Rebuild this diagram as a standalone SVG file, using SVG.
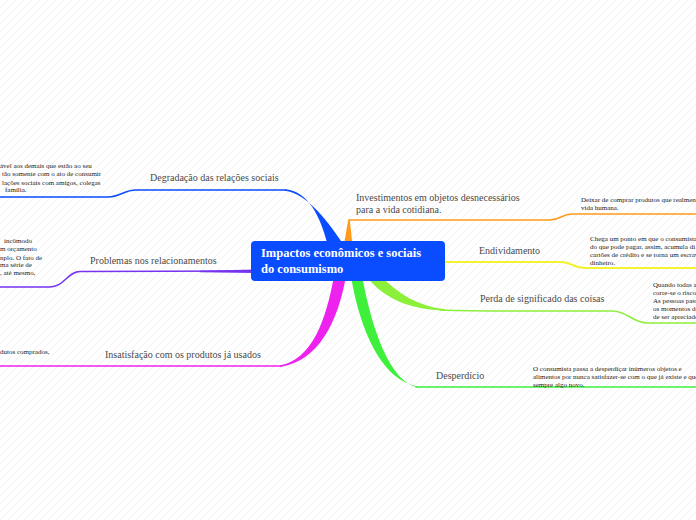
<svg xmlns="http://www.w3.org/2000/svg" width="696" height="520" viewBox="0 0 696 520">
<defs>
<pattern id="hatch" patternUnits="userSpaceOnUse" width="8" height="8">
<path d="M-1,9 L9,-1 M-1,1 L1,-1 M7,9 L9,7" stroke="#efefef" stroke-width="0.8" fill="none"/>
</pattern>
<style>
.main{font-family:"Liberation Serif","Times New Roman",serif;font-weight:bold;font-size:12.5px;fill:#ffffff}
.lbl{font-family:"Liberation Serif","Times New Roman",serif;font-size:10px;fill:#4a4a4a}
.note{font-family:"Liberation Serif","Times New Roman",serif;font-size:7px;fill:#222222}
.ln{fill:none;stroke-width:1.5;stroke-linecap:round;stroke-linejoin:round}
</style>
</defs>
<rect x="0" y="0" width="696" height="520" fill="#ffffff"/>
<rect x="0" y="0" width="696" height="520" fill="url(#hatch)"/>

<g id="connectors">
  <!-- Degradação (blue) -->
  <path d="M334,281 C327,222 310,191 285,189.3 L285,190.7 C306,193 328,220 347,250 Z" fill="#0a4cff"/>
  <path class="ln" d="M0,197 L108,197 C120,197 124,190 136,190 L286,190" stroke="#0a4cff"/>
  <!-- Investimentos (orange) -->
  <path d="M343,250 L348.2,220 L349.8,220 L353,250 Z" fill="#ff9a1a"/>
  <path class="ln" d="M349,220 L550,220 C560,220 562,214 572,214 L696,214" stroke="#ff9a1a"/>
  <!-- Endividamento (yellow) -->
  <path class="ln" d="M440,262 L561,262 C571,262 574,268 585,268 L696,268" stroke="#f2f22e" style="stroke-width:2"/>
  <!-- Perda de significado (light green) -->
  <path d="M366,276 C385,300 410,309 445,310.7 L445,309.3 C418,306 398,294 381,276 Z" fill="#8cf03a"/>
  <path class="ln" d="M440,310 C470,311 490,311 520,311 L612,311 C628,311 632,323 648,323 L696,323" stroke="#8cf03a"/>
  <!-- Desperdício (green) -->
  <path d="M351,276 C358,320 378,380 418,386.4 L418,387.6 C390,382 372,330 362,276 Z" fill="#3ef03a"/>
  <path class="ln" d="M416,387 L696,387" stroke="#3ef03a"/>
  <!-- Insatisfação (magenta) -->
  <path d="M334,276 C326,320 312,360 280,365.3 L280,366.7 C318,362 338,322 346,276 Z" fill="#ee22ee"/>
  <path class="ln" d="M0,366 L282,366" stroke="#ee22ee"/>
  <!-- Problemas (purple) -->
  <path d="M255,269.5 L200,270.8 L200,272.2 L255,273 Z" fill="#7733ee"/>
  <path class="ln" d="M252,271 L80,271.5 C68,271.5 64,287 50,287 L0,287" stroke="#7733ee"/>
</g>

<g id="node-center">
  <rect x="251" y="241" width="194" height="40" rx="4" ry="4" fill="#0a4cff"/>
  <text class="main" x="261" y="257">Impactos econômicos e sociais</text>
  <text class="main" x="261" y="272.5">do consumismo</text>
</g>

<g id="node-degradacao">
  <text class="lbl" x="150" y="181">Degradação das relações sociais</text>
</g>
<g id="note-degradacao">
  <text class="note" x="0" y="168">ável aos demais que estão ao seu</text>
  <text class="note" x="2" y="176">tão somente com o ato de consumir</text>
  <text class="note" x="2" y="184.5">lações sociais com amigos, colegas</text>
  <text class="note" x="5" y="192">família.</text>
</g>

<g id="node-problemas">
  <text class="lbl" x="90" y="263.5">Problemas nos relacionamentos</text>
</g>
<g id="note-problemas">
  <text class="note" x="4" y="243">incômodo</text>
  <text class="note" x="0" y="251">m orçamento</text>
  <text class="note" x="0" y="259.5">nplo. O fato de</text>
  <text class="note" x="0" y="267">ma série de</text>
  <text class="note" x="0" y="275">, até mesmo,</text>
</g>

<g id="node-insatisfacao">
  <text class="lbl" x="105" y="358">Insatisfação com os produtos já usados</text>
</g>
<g id="note-insatisfacao">
  <text class="note" x="0" y="354">dutos comprados,</text>
</g>

<g id="node-investimentos">
  <text class="lbl" x="356" y="201">Investimentos em objetos desnecessários</text>
  <text class="lbl" x="356" y="212.5">para a vida cotidiana.</text>
</g>
<g id="note-investimentos">
  <text class="note" x="581" y="202">Deixar de comprar produtos que realmente</text>
  <text class="note" x="581" y="210">vida humana.</text>
</g>

<g id="node-endividamento">
  <text class="lbl" x="479" y="254">Endividamento</text>
</g>
<g id="note-endividamento">
  <text class="note" x="590" y="240.5">Chega um ponto em que o consumista</text>
  <text class="note" x="590" y="248.5">do que pode pagar, assim, acumula dí</text>
  <text class="note" x="590" y="256.5">cartões de crédito e se torna um escravo</text>
  <text class="note" x="590" y="264.5">dinheiro.</text>
</g>

<g id="node-perda">
  <text class="lbl" x="480" y="302">Perda de significado das coisas</text>
</g>
<g id="note-perda">
  <text class="note" x="653" y="287">Quando todas as</text>
  <text class="note" x="653" y="295">corre-se o risco</text>
  <text class="note" x="653" y="303">As pessoas passam</text>
  <text class="note" x="653" y="311">os momentos de</text>
  <text class="note" x="653" y="319">de ser apreciados</text>
</g>

<g id="node-desperdicio">
  <text class="lbl" x="436" y="379">Desperdício</text>
</g>
<g id="note-desperdicio">
  <text class="note" x="533" y="370.5">O consumista passa a desperdiçar inúmeros objetos e</text>
  <text class="note" x="533" y="378.5">alimentos por nunca satisfazer-se com o que já existe e quer</text>
  <text class="note" x="533" y="386.5">sempre algo novo.</text>
</g>
</svg>
